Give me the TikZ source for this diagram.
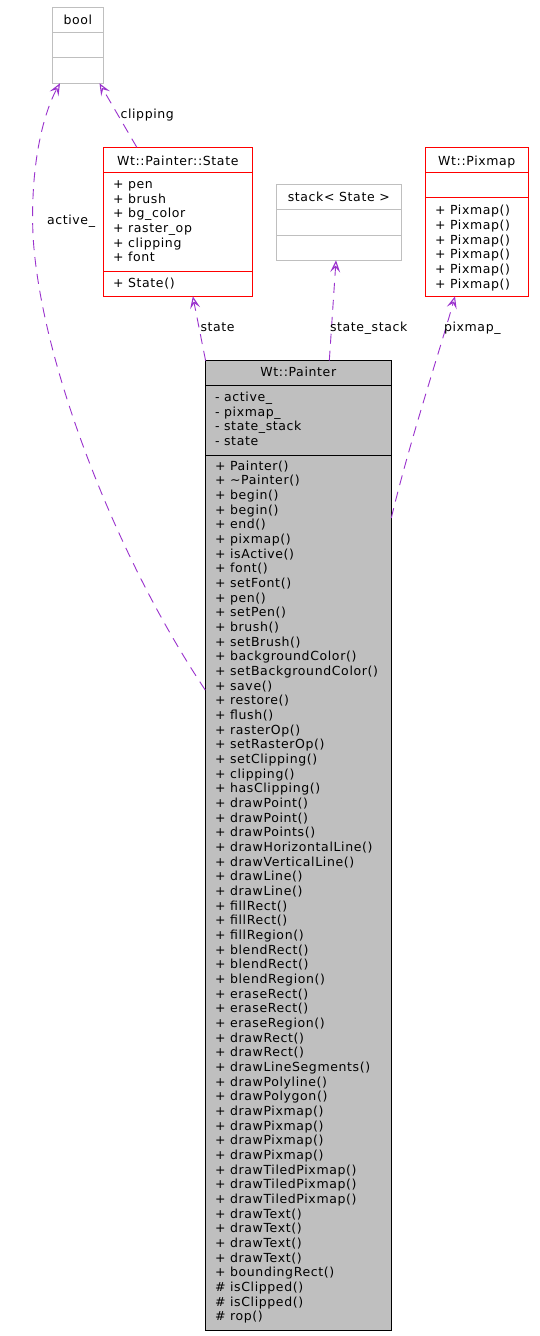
\documentclass[tikz,border=0pt]{standalone}
\usepackage{fontspec}
\setmainfont{DejaVu Sans}[LetterSpace=5]
\usetikzlibrary{arrows.meta}
\definecolor{edgec}{RGB}{154,50,205}
\definecolor{boxgray}{RGB}{191,191,191}
\definecolor{boxred}{RGB}{255,0,0}
\begin{document}
\begin{tikzpicture}[x=1pt,y=-1pt,
  font=\fontsize{12.5}{14}\selectfont,
  classbox/.style={draw, rectangle, inner sep=0pt, outer sep=0pt, anchor=north west, line width=1pt},
  txt/.style={anchor=base west, inner sep=0pt, outer sep=0pt},
  ttl/.style={anchor=base, inner sep=0pt, outer sep=0pt},
  lbl/.style={anchor=base west, inner sep=0pt, outer sep=0pt},
  assoc/.style={draw=edgec, line width=0.9pt, dash pattern=on 10pt off 7pt,
    -{Stealth[length=12pt, width=10pt, inset=5pt, line width=1.1pt, open]}}]
\useasboundingbox (0,0) rectangle (540,1336);
\fill[white] (0,0) rectangle (540,1336);

% class boxes
\node[classbox, draw=boxgray, minimum width=51pt, minimum height=76pt] (bool) at (52.3,7.3) {};
\node[classbox, draw=boxred, minimum width=149pt, minimum height=149pt] (state) at (103.3,147.3) {};
\node[classbox, draw=boxgray, minimum width=125pt, minimum height=76pt] (stack) at (276.3,184.3) {};
\node[classbox, draw=boxred, minimum width=103pt, minimum height=149pt] (pixmap) at (425.3,147.3) {};
\node[classbox, draw=black, fill=boxgray, minimum width=186pt, minimum height=969.3pt] (painter) at (205.3,360.7) {};

% separators
\draw[boxgray, line width=1pt] ([yshift=-25pt]bool.north west) -- ([yshift=-25pt]bool.north east);
\draw[boxgray, line width=1pt] ([yshift=-50pt]bool.north west) -- ([yshift=-50pt]bool.north east);
\draw[boxred, line width=1pt] ([yshift=-25pt]state.north west) -- ([yshift=-25pt]state.north east);
\draw[boxred, line width=1pt] ([yshift=-124pt]state.north west) -- ([yshift=-124pt]state.north east);
\draw[boxgray, line width=1pt] ([yshift=-25pt]stack.north west) -- ([yshift=-25pt]stack.north east);
\draw[boxgray, line width=1pt] ([yshift=-51pt]stack.north west) -- ([yshift=-51pt]stack.north east);
\draw[boxred, line width=1pt] ([yshift=-25pt]pixmap.north west) -- ([yshift=-25pt]pixmap.north east);
\draw[boxred, line width=1pt] ([yshift=-50pt]pixmap.north west) -- ([yshift=-50pt]pixmap.north east);
\draw[black, line width=1pt] ([yshift=-24.6pt]painter.north west) -- ([yshift=-24.6pt]painter.north east);
\draw[black, line width=1pt] ([yshift=-94.6pt]painter.north west) -- ([yshift=-94.6pt]painter.north east);

% titles
\node[ttl] (tbool) at (77.8,24.5) {bool};
\node[ttl] (tstate) at (177.8,165) {Wt::Painter::State};
\node[ttl] (tstack) at (338.8,201.5) {stack< State >};
\node[ttl] (tpixmap) at (476.8,165) {Wt::Pixmap};
\node[ttl] (tpainter) at (298.3,376) {Wt::Painter};

% State members
\foreach \t [count=\i from 0] in {+ pen, + brush, + bg\_color, + raster\_op, + clipping, + font}
  \node[txt] (sa\i) at (113, {188.5+14.67*\i}) {\t};
\node[txt] (sm0) at (113,287.5) {+ State()};

% Pixmap members
\foreach \i in {0,...,5}
  \node[txt] (pm\i) at (435, {214.8+14.67*\i}) {+ Pixmap()};

% Painter members
\foreach \t [count=\i from 0] in {- active\_, - pixmap\_, - state\_stack, - state}
  \node[txt] (pa\i) at (215, {401.5+14.67*\i}) {\t};
\foreach \t [count=\i from 0] in {+ Painter(), + \textasciitilde Painter(), + begin(), + begin(), + end(),
  + pixmap(), + isActive(), + font(), + setFont(), + pen(), + setPen(), + brush(), + setBrush(),
  + backgroundColor(), + setBackgroundColor(), + save(), + restore(), + flush(), + rasterOp(),
  + setRasterOp(), + setClipping(), + clipping(), + hasClipping(), + drawPoint(), + drawPoint(),
  + drawPoints(), + drawHorizontalLine(), + drawVerticalLine(), + drawLine(), + drawLine(),
  + fillRect(), + fillRect(), + fillRegion(), + blendRect(), + blendRect(), + blendRegion(),
  + eraseRect(), + eraseRect(), + eraseRegion(), + drawRect(), + drawRect(), + drawLineSegments(),
  + drawPolyline(), + drawPolygon(), + drawPixmap(), + drawPixmap(), + drawPixmap(), + drawPixmap(),
  + drawTiledPixmap(), + drawTiledPixmap(), + drawTiledPixmap(), + drawText(), + drawText(),
  + drawText(), + drawText(), + boundingRect(), \# isClipped(), \# isClipped(), \# rop()}
  \node[txt] (pf\i) at (215, {470.1+14.67*\i}) {\t};

% connectors
\coordinate (actmid) at (33,235);
\draw[assoc] ([yshift=155.3pt]painter.west) .. controls (115,555) and (40,360) .. (actmid)
  .. controls (30,160) and (45,110) .. ([xshift=-17.8pt]bool.south);
\draw[assoc] ([xshift=-41pt]state.north) -- ([xshift=21.7pt]bool.south);
\draw[assoc] ([xshift=0.3pt]painter.north west) -- ([xshift=15pt]state.south);
\draw[assoc] ([xshift=31pt]painter.north) -- ([xshift=-2.8pt]stack.south);
\draw[assoc] ([yshift=-157.3pt]painter.north east) .. controls (410,440) and (440,350) .. ([xshift=-21.8pt]pixmap.south);

% connector labels
\node[lbl] (lactive) at (47,224) {active\_};
\node[lbl] (lclip) at (120.5,118.5) {clipping};
\node[lbl] (lstate) at (200.5,331.5) {state};
\node[lbl] (lstack) at (330,331.5) {state\_stack};
\node[lbl] (lpix) at (444,331.5) {pixmap\_};
\end{tikzpicture}
\end{document}
